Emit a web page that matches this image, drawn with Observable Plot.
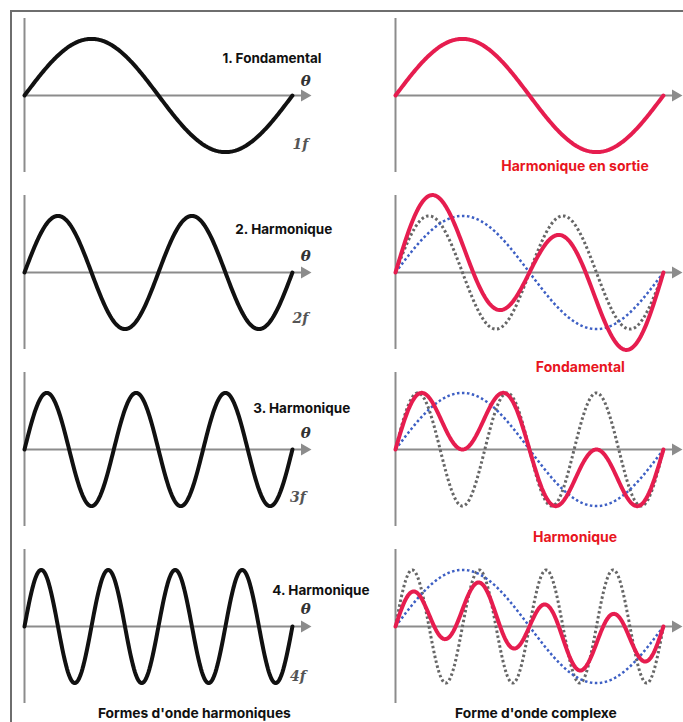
<!DOCTYPE html>
<html>
<head>
<meta charset="utf-8">
<script src="https://cdn.jsdelivr.net/npm/d3@7"></script>
<script src="https://cdn.jsdelivr.net/npm/@observablehq/plot@0.6"></script>
<style>
  html, body { margin: 0; padding: 0; background: #fff; }
  #wrap { position: relative; width: 683px; height: 722px; overflow: hidden; }
  #frame { position: absolute; left: 10px; top: 10px; right: -5px; bottom: -5px;
           border-top: 2px solid #6e6e6e; border-left: 2px solid #6e6e6e; }
  #chart { position: absolute; left: 0; top: 0; }
</style>
</head>
<body>
<div id="wrap"><div id="frame"></div><div id="chart"></div></div>
<script>
// ---- data ----
const harmonicOrder = [1, 2, 3, 4];
const leftLabels = ["1. Fondamental", "2. Harmonique", "3. Harmonique", "4. Harmonique"];
const freqLabels = ["1f", "2f", "3f", "4f"];
// weights of the fundamental and of the n-th harmonic in the complex (red) wave
const fundamentalWeight = [1, 0.5, 0.65, 0.3];
const harmonicWeight = [0, 1, 0.65, 0.5];
const rightLabels = ["Harmonique en sortie", "Fondamental", "Harmonique"];
const captions = ["Formes d'onde harmoniques", "Forme d'onde complexe"];

// ---- layout (data units inside each panel) ----
const leftLabelPos = [[0.739, 0.65], [0.787, 0.75], [0.854, 0.72], [0.925, 0.63]];
const thetaPos = [[1.05, 0.25], [1.05, 0.28], [1.05, 0.28], [1.05, 0.30]];
const freqPos = [[1.03, -0.86], [1.03, -0.81], [1.02, -0.84], [1.02, -0.88]];
const rightLabelPos = [[0.67, -1.25, 1], [0.69, -1.67, 2], [0.67, -1.56, 3]];
const captionPos = [["L", 0.634, -1.53], ["R", 0.524, -1.53]];

const samples = d3.range(0, 241).map(i => i / 240);
const waves = [];
harmonicOrder.forEach((n, i) => {
  samples.forEach(t => {
    const th = 2 * Math.PI * t;
    waves.push({col: "L", row: n, t, y: Math.sin(n * th), s: "harm"});
    waves.push({col: "R", row: n, t,
      y: fundamentalWeight[i] * Math.sin(th) + harmonicWeight[i] * Math.sin(n * th), s: "red"});
    if (n > 1) {
      waves.push({col: "R", row: n, t, y: Math.sin(th), s: "blue"});
      waves.push({col: "R", row: n, t, y: Math.sin(n * th), s: "gray"});
    }
  });
});

const leftText = harmonicOrder.map((n, i) => ({col: "L", row: n, t: leftLabelPos[i][0], y: leftLabelPos[i][1], text: leftLabels[i]}));
const thetaText = harmonicOrder.map((n, i) => ({col: "L", row: n, t: thetaPos[i][0], y: thetaPos[i][1], text: "θ"}));
const freqText = harmonicOrder.map((n, i) => ({col: "L", row: n, t: freqPos[i][0], y: freqPos[i][1], text: freqLabels[i]}));
const rightText = rightLabels.map((s, i) => ({col: "R", row: rightLabelPos[i][2], t: rightLabelPos[i][0], y: rightLabelPos[i][1], text: s}));
const captionText = captions.map((s, i) => ({col: captionPos[i][0], row: 4, t: captionPos[i][1], y: captionPos[i][2], text: s}));

const FONT = "Inter, Roboto, 'Liberation Sans', sans-serif";
const SERIF = "'DejaVu Serif', 'Liberation Serif', serif";
const AX = "#8c8c8c";

const chart = Plot.plot({
  width: 683,
  height: 722,
  marginLeft: 24,
  marginRight: 4,
  marginTop: 17,
  marginBottom: 17,
  fx: {domain: ["L", "R"], paddingInner: 0.235, paddingOuter: 0, axis: null, label: null},
  fy: {domain: harmonicOrder, paddingInner: 0.128, paddingOuter: 0, axis: null, label: null},
  x: {domain: [0, 1.06], axis: null},
  y: {domain: [-1.36, 1.36], axis: null},
  style: {fontFamily: FONT, background: "transparent", overflow: "visible"},
  marks: [
    Plot.ruleX([0], {stroke: AX, strokeWidth: 2}),
    Plot.ruleY([0], {x1: 0, x2: 1.04, stroke: AX, strokeWidth: 2}),
    Plot.dot([{x: 1.045, y: 0}], {x: "x", y: "y", symbol: "triangle", r: 4.5, fill: AX, stroke: "none", rotate: 90}),
    Plot.line(waves.filter(d => d.s === "gray"), {x: "t", y: "y", fx: "col", fy: "row", stroke: "#666", strokeWidth: 3, strokeDasharray: "2.5,2.5", strokeLinecap: "butt"}),
    Plot.line(waves.filter(d => d.s === "blue"), {x: "t", y: "y", fx: "col", fy: "row", stroke: "#3d5fc4", strokeWidth: 2.5, strokeDasharray: "2.5,2.5", strokeLinecap: "butt"}),
    Plot.line(waves.filter(d => d.s === "harm"), {x: "t", y: "y", fx: "col", fy: "row", stroke: "#111", strokeWidth: 4, strokeLinecap: "round"}),
    Plot.line(waves.filter(d => d.s === "red"), {x: "t", y: "y", fx: "col", fy: "row", stroke: "#e61d4f", strokeWidth: 4, strokeLinecap: "round"}),
    Plot.text(leftText, {x: "t", y: "y", fx: "col", fy: "row", text: "text", textAnchor: "start", fontWeight: "bold", fontSize: 13.5, fill: "#111", fontFamily: FONT}),
    Plot.text(thetaText, {x: "t", y: "y", fx: "col", fy: "row", text: "text", fontWeight: "bold", fontStyle: "italic", fontSize: 15, fill: "#333", fontFamily: SERIF}),
    Plot.text(freqText, {x: "t", y: "y", fx: "col", fy: "row", text: "text", fontStyle: "italic", fontWeight: "bold", fontSize: 14, fill: "#555", fontFamily: SERIF}),
    Plot.text(rightText, {x: "t", y: "y", fx: "col", fy: "row", text: "text", fontWeight: "bold", fontSize: 14, fill: "#e8151e", fontFamily: FONT}),
    Plot.text(captionText, {x: "t", y: "y", fx: "col", fy: "row", text: "text", fontWeight: "bold", fontSize: 13.8, fill: "#111", fontFamily: FONT})
  ]
});
document.getElementById("chart").appendChild(chart);
</script>
</body>
</html>
